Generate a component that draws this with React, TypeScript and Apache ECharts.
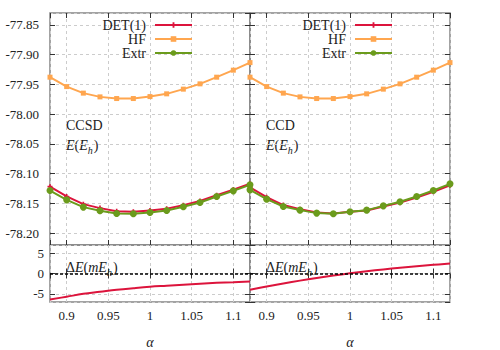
import { useEffect, useRef } from 'react';
import * as echarts from 'echarts';

// ---- data ----
const alpha = [0.88, 0.9, 0.92, 0.94, 0.96, 0.98, 1.0, 1.02, 1.04, 1.06, 1.08, 1.1, 1.12];

const hfEnergy = [-77.9379, -77.9537, -77.9647, -77.971, -77.9738, -77.9738, -77.9705, -77.9659, -77.958, -77.9491, -77.9379, -77.9261, -77.9134];

const ccsdDet = [-78.122, -78.1384, -78.1513, -78.158, -78.1631, -78.164, -78.1622, -78.159, -78.153, -78.1461, -78.1362, -78.1269, -78.117];
const ccsdExtr = [-78.1284, -78.1441, -78.1563, -78.1625, -78.1671, -78.1676, -78.1654, -78.162, -78.1558, -78.1486, -78.1385, -78.129, -78.1189];
const ccsdDelta = [-6.4, -5.7, -5.0, -4.5, -4.0, -3.6, -3.25, -3.0, -2.75, -2.5, -2.3, -2.15, -1.95];

const ccdDet = [-78.1233, -78.1397, -78.1529, -78.1597, -78.1653, -78.1671, -78.1643, -78.162, -78.1552, -78.1488, -78.1403, -78.1305, -78.1197];
const ccdExtr = [-78.1273, -78.1429, -78.1553, -78.1614, -78.1664, -78.1676, -78.1642, -78.1614, -78.1542, -78.1474, -78.1385, -78.1284, -78.1172];
const ccdDelta = [-4.0, -3.2, -2.45, -1.75, -1.1, -0.5, 0.05, 0.55, 1.0, 1.4, 1.78, 2.13, 2.46];

const methods = ['CCSD', 'CCD'];
const legendNames = ['DET(1)', 'HF', 'Extr'];

// ---- styles ----
const FONT = '"Liberation Serif", "Times New Roman", serif';
const RED = '#dc143c';
const ORANGE = '#ffa64f';
const GREEN = '#6b9b1c';
const TEXT = '#222';
const PLUS = 'path://M2,0h2v2h2v2h-2v2h-2v-2h-2v-2h2z';

const pairs = (ys: number[]) => alpha.map((a, i) => [a, ys[i]]);

export default function App() {
  const ref = useRef<HTMLDivElement>(null);

  useEffect(() => {
    if (!ref.current) return;
    const chart = echarts.init(ref.current, null, { renderer: 'svg' });

    const grids = [
      { left: 50, top: 13, width: 200, height: 232 },
      { left: 50, top: 245, width: 200, height: 63 },
      { left: 250, top: 13, width: 200, height: 232 },
      { left: 250, top: 245, width: 200, height: 63 },
    ].map((g) => ({ ...g, show: true, borderColor: '#858585', borderWidth: 1.5, backgroundColor: 'transparent' }));

    const gridLine = { show: true, lineStyle: { color: '#cccccc', type: [3, 3], width: 1 } };
    const tick = { show: true, inside: true, length: 5, lineStyle: { color: '#333', width: 1 } };

    const xAxes: any[] = [];
    const yAxes: any[] = [];
    for (let g = 0; g < 4; g++) {
      const lower = g % 2 === 1;
      const leftPanel = g < 2;
      ['bottom', 'top'].forEach((pos) => {
        const main = pos === 'bottom';
        xAxes.push({
          type: 'value', gridIndex: g, position: pos,
          min: 0.88, max: 1.12, splitNumber: 5, minInterval: 0.05, maxInterval: 0.05,
          axisLine: { show: false },
          axisTick: tick,
          axisLabel: {
            show: main && lower, showMinLabel: false, showMaxLabel: false, margin: 7,
            fontFamily: FONT, fontSize: 13, color: TEXT,
          },
          splitLine: main ? gridLine : { show: false },
          name: main && lower ? 'α' : '',
          nameLocation: 'middle', nameGap: 33,
          nameTextStyle: { fontFamily: FONT, fontStyle: 'italic', fontSize: 14, color: TEXT },
        });
      });
      ['left', 'right'].forEach((pos) => {
        const main = pos === 'left';
        yAxes.push({
          type: 'value', gridIndex: g, position: pos,
          min: lower ? -7 : -78.22, max: lower ? 7 : -77.83,
          splitNumber: lower ? 3 : 8,
          minInterval: lower ? 5 : 0.05, maxInterval: lower ? 5 : 0.05,
          axisLine: { show: false },
          axisTick: tick,
          axisLabel: {
            show: main && leftPanel, showMinLabel: false, showMaxLabel: false,
            margin: lower ? 6 : 11,
            fontFamily: FONT, fontSize: 13, color: TEXT,
            formatter: lower ? (v: number) => String(v) : (v: number) => v.toFixed(2),
          },
          splitLine: main ? gridLine : { show: false },
        });
      });
    }

    const series: any[] = [];
    const dets = [ccsdDet, ccdDet];
    const extrs = [ccsdExtr, ccdExtr];
    const deltas = [ccsdDelta, ccdDelta];
    for (let k = 0; k < 2; k++) {
      const gu = 2 * k;
      const gl = 2 * k + 1;
      series.push({
        type: 'line', name: 'DET(1)', xAxisIndex: 2 * gu, yAxisIndex: 2 * gu,
        data: pairs(dets[k]), symbol: PLUS, symbolSize: 5, showSymbol: true,
        lineStyle: { color: RED, width: 2 }, itemStyle: { color: RED }, z: 3,
      });
      series.push({
        type: 'line', name: 'HF', xAxisIndex: 2 * gu, yAxisIndex: 2 * gu,
        data: pairs(hfEnergy), symbol: 'rect', symbolSize: 5,
        lineStyle: { color: ORANGE, width: 2 }, itemStyle: { color: ORANGE }, z: 3,
      });
      series.push({
        type: 'line', name: 'Extr', xAxisIndex: 2 * gu, yAxisIndex: 2 * gu,
        data: pairs(extrs[k]), symbol: 'circle', symbolSize: 7,
        lineStyle: { color: GREEN, width: 2 }, itemStyle: { color: GREEN }, z: 4,
      });
      series.push({
        type: 'line', name: 'ΔE', xAxisIndex: 2 * gl, yAxisIndex: 2 * gl,
        data: pairs(deltas[k]), symbol: 'none', smooth: 0.4,
        lineStyle: { color: RED, width: 2 }, z: 4,
        markLine: {
          silent: true, symbol: 'none', label: { show: false },
          lineStyle: { color: '#000', type: [3, 2], width: 1.6 },
          data: [{ yAxis: 0 }],
        },
      });
    }

    const legends = [0, 1].map((k) => ({
      data: legendNames,
      orient: 'vertical', align: 'right',
      right: k === 0 ? 307 : 107, top: 18, padding: 0, itemGap: 0,
      itemWidth: 37, itemHeight: 7, selectedMode: false,
      textStyle: { fontFamily: FONT, fontSize: 14, color: TEXT, lineHeight: 14, padding: [0, 4, 0, 0] },
    }));

    const rich = {
      n: { fontFamily: FONT, fontSize: 14, fill: TEXT, color: TEXT, lineHeight: 20 },
      i: { fontFamily: FONT, fontSize: 14, fontStyle: 'italic', fill: TEXT, color: TEXT, lineHeight: 20 },
      s: { fontFamily: FONT, fontSize: 10, fontStyle: 'italic', fill: TEXT, color: TEXT, lineHeight: 10, verticalAlign: 'bottom', padding: [0, 1, 0, 0] },
    };
    const graphic: any[] = [];
    [0, 1].forEach((k) => {
      const x0 = k === 0 ? 66 : 266;
      graphic.push({
        type: 'text', x: x0, y: 125,
        style: { text: methods[k], fontFamily: FONT, fontSize: 14, fill: TEXT, verticalAlign: 'middle' },
      });
      graphic.push({
        type: 'text', x: x0, y: 145,
        style: { text: '{i|E}{n|(}{i|E}{s|h}{n|)}', rich, verticalAlign: 'middle' },
      });
      graphic.push({
        type: 'text', x: x0, y: 267,
        style: { text: '{n|Δ}{i|E}{n|(}{i|mE}{s|h}{n|)}', rich, verticalAlign: 'middle' },
      });
    });

    chart.setOption({
      animation: false,
      backgroundColor: '#fff',
      grid: grids,
      xAxis: xAxes,
      yAxis: yAxes,
      legend: legends,
      series,
      graphic,
    });
    return () => chart.dispose();
  }, []);

  return <div ref={ref} style={{ width: 500, height: 350, position: 'absolute', left: 0, top: 0 }} />;
}
